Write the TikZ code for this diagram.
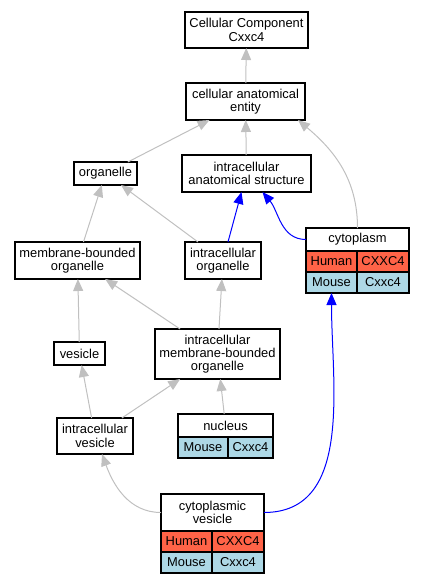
\documentclass[tikz,border=0pt]{standalone}
\usepackage{fontspec}
\setmainfont{Liberation Sans}
\usetikzlibrary{arrows.meta,positioning}
\definecolor{edgegray}{HTML}{C0C0C0}
\definecolor{humanfill}{HTML}{FF6347}
\definecolor{mousefill}{HTML}{ADD8E6}
\tikzset{
  termbox/.style={draw=black,fill=white,line width=1.2pt,outer sep=0pt,
                  align=center,inner sep=2pt,
                  font=\fontsize{12.9}{13.3}\selectfont},
  humancell/.style={termbox,fill=humanfill,minimum height=21pt,anchor=north west},
  mousecell/.style={termbox,fill=mousefill,minimum height=21pt,anchor=north west},
  isaarr/.style={-{Triangle[length=12pt,width=10pt]},line width=1pt,color=edgegray},
  rolearr/.style={-{Triangle[length=12pt,width=10pt]},line width=1pt,color=blue}
}

\begin{document}
\begin{tikzpicture}[x=1pt,y=-1pt]
  \useasboundingbox (0,0) rectangle (424,584);

  % terms
  \node[termbox,minimum width=123pt,minimum height=36pt] (cc) at (246.5,30) {Cellular Component\\Cxxc4};
  \node[termbox,minimum width=119pt,minimum height=37pt] (cae) at (245.5,101.5) {cellular anatomical\\entity};
  \node[termbox,minimum width=63pt,minimum height=23pt] (org) at (105.5,173.5) {organelle};
  \node[termbox,minimum width=129pt,minimum height=37pt] (ias) at (246.5,173.5) {intracellular\\anatomical structure};
  \node[termbox,minimum width=125pt,minimum height=37pt] (mbo) at (77.5,260.5) {membrane-bounded\\organelle};
  \node[termbox,minimum width=76pt,minimum height=37pt] (io) at (223,260.5) {intracellular\\organelle};
  \node[termbox,minimum width=125pt,minimum height=50pt] (imbo) at (217.5,354) {intracellular\\membrane-bounded\\organelle};
  \node[termbox,minimum width=51pt,minimum height=23pt] (ves) at (79.5,353.5) {vesicle};
  \node[termbox,minimum width=76pt,minimum height=36pt] (iv) at (95,436) {intracellular\\vesicle};

  % annotated terms
  \node[termbox,minimum width=103pt,minimum height=23pt] (cyto) at (357.5,239.5) {cytoplasm};
  \node[humancell,minimum width=51pt] (cytoH) at (cyto.south west) {Human};
  \node[humancell,minimum width=52pt] (cytoHg) at (cytoH.north east) {CXXC4};
  \node[mousecell,minimum width=51pt] (cytoM) at (cytoH.south west) {Mouse};
  \node[mousecell,minimum width=52pt] (cytoMg) at (cytoM.north east) {Cxxc4};

  \node[termbox,minimum width=95pt,minimum height=23pt] (nuc) at (225.5,425.5) {nucleus};
  \node[mousecell,minimum width=50pt] (nucM) at (nuc.south west) {Mouse};
  \node[mousecell,minimum width=45pt] (nucMg) at (nucM.north east) {Cxxc4};

  \node[termbox,minimum width=103pt,minimum height=37pt] (cv) at (212.5,512.5) {cytoplasmic\\vesicle};
  \node[humancell,minimum width=51pt] (cvH) at (cv.south west) {Human};
  \node[humancell,minimum width=52pt] (cvHg) at (cvH.north east) {CXXC4};
  \node[mousecell,minimum width=51pt] (cvM) at (cvH.south west) {Mouse};
  \node[mousecell,minimum width=52pt] (cvMg) at (cvM.north east) {Cxxc4};

  % is_a edges
  \draw[isaarr] (cae) -- (cc);
  \draw[isaarr] (org) -- (cae);
  \draw[isaarr] (ias) -- (cae);
  \draw[isaarr] (cyto.north) to[out=90,in=-40] ([xshift=-7pt]cae.south east);
  \draw[isaarr] (mbo) -- (org);
  \draw[isaarr] (io) -- (org);
  \draw[isaarr] (imbo) -- (mbo);
  \draw[isaarr] (imbo) -- (io);
  \draw[isaarr] (ves) -- (mbo);
  \draw[isaarr] (iv) -- (ves);
  \draw[isaarr] (iv) -- (imbo);
  \draw[isaarr] (nuc) -- (imbo);
  \draw[isaarr] (cv.west) to[out=180,in=-70] ([xshift=7pt]iv.south);

  % part_of edges
  \draw[rolearr] (io) -- (ias);
  \draw[rolearr] (cyto.west) to[out=180,in=-50] ([xshift=16pt]ias.south);
  \draw[rolearr] (cv.east) to[out=0,in=-90] (cytoM.south);
\end{tikzpicture}
\end{document}
